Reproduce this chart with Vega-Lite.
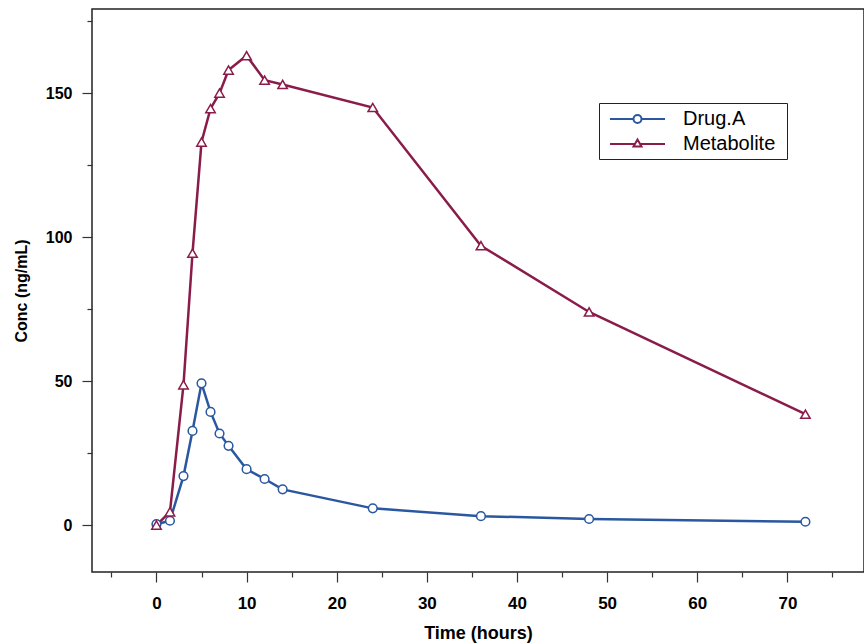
{
  "$schema": "https://vega.github.io/schema/vega-lite/v6.json",
  "width": 772,
  "height": 563,
  "autosize": {"type": "none"},
  "padding": {"left": 92, "top": 9, "right": 0, "bottom": 72},
  "background": "white",
  "config": {
    "view": {"stroke": "#222222", "strokeWidth": 1.5},
    "axis": {"domain": false, "grid": false, "labelColor": "black", "titleColor": "black", "tickColor": "#333333", "tickWidth": 1.2}
  },
  "data": {
    "values": [
      {"time": 0, "conc": 0.3, "compound": "Drug.A"},
      {"time": 1.5, "conc": 1.5, "compound": "Drug.A"},
      {"time": 3, "conc": 17, "compound": "Drug.A"},
      {"time": 4, "conc": 32.7, "compound": "Drug.A"},
      {"time": 5, "conc": 49.2, "compound": "Drug.A"},
      {"time": 6, "conc": 39.3, "compound": "Drug.A"},
      {"time": 7, "conc": 31.8, "compound": "Drug.A"},
      {"time": 8, "conc": 27.5, "compound": "Drug.A"},
      {"time": 10, "conc": 19.4, "compound": "Drug.A"},
      {"time": 12, "conc": 16, "compound": "Drug.A"},
      {"time": 14, "conc": 12.4, "compound": "Drug.A"},
      {"time": 24, "conc": 5.8, "compound": "Drug.A"},
      {"time": 36, "conc": 3.1, "compound": "Drug.A"},
      {"time": 48, "conc": 2.1, "compound": "Drug.A"},
      {"time": 72, "conc": 1.15, "compound": "Drug.A"},
      {"time": 0, "conc": 0, "compound": "Metabolite"},
      {"time": 1.5, "conc": 4.6, "compound": "Metabolite"},
      {"time": 3, "conc": 48.7, "compound": "Metabolite"},
      {"time": 4, "conc": 94.4, "compound": "Metabolite"},
      {"time": 5, "conc": 133, "compound": "Metabolite"},
      {"time": 6, "conc": 144.6, "compound": "Metabolite"},
      {"time": 7, "conc": 150, "compound": "Metabolite"},
      {"time": 8, "conc": 158, "compound": "Metabolite"},
      {"time": 10, "conc": 163, "compound": "Metabolite"},
      {"time": 12, "conc": 154.5, "compound": "Metabolite"},
      {"time": 14, "conc": 153, "compound": "Metabolite"},
      {"time": 24, "conc": 145, "compound": "Metabolite"},
      {"time": 36, "conc": 97, "compound": "Metabolite"},
      {"time": 48, "conc": 74, "compound": "Metabolite"},
      {"time": 72, "conc": 38.5, "compound": "Metabolite"}
    ]
  },
  "encoding": {
    "x": {
      "field": "time", "type": "quantitative",
      "scale": {"domain": [-7.15, 78.5], "nice": false, "zero": false},
      "axis": {
        "title": "Time (hours)",
        "values": [-5, 0, 5, 10, 15, 20, 25, 30, 35, 40, 45, 50, 55, 60, 65, 70, 75],
        "labelExpr": "datum.value % 10 === 0 ? datum.label : ''",
        "tickSize": {"condition": {"test": "datum.value % 10 === 0", "value": 10}, "value": 5},
        "labelPadding": 13,
        "labelFont": "Liberation Sans",
        "labelFontWeight": "bold",
        "labelFontSize": 17,
        "labelFlush": false,
        "labelOverlap": false,
        "titleFont": "Liberation Sans",
        "titleFontWeight": "bold",
        "titleFontSize": 18,
        "titlePadding": 13
      }
    },
    "y": {
      "field": "conc", "type": "quantitative",
      "scale": {"domain": [-16.3, 179.2], "nice": false, "zero": false},
      "axis": {
        "title": "Conc (ng/mL)",
        "values": [0, 25, 50, 75, 100, 125, 150, 175],
        "labelExpr": "datum.value % 50 === 0 ? datum.label : ''",
        "tickSize": {"condition": {"test": "datum.value % 50 === 0", "value": 10}, "value": 5},
        "labelPadding": 10,
        "labelFont": "Liberation Sans",
        "labelFontWeight": "bold",
        "labelFontSize": 16,
        "labelFlush": false,
        "labelOverlap": false,
        "titleFont": "Liberation Sans",
        "titleFontWeight": "bold",
        "titleFontSize": 16,
        "titlePadding": 16
      }
    },
    "color": {
      "field": "compound", "type": "nominal",
      "scale": {"domain": ["Drug.A", "Metabolite"], "range": ["#2a579f", "#8a1c4a"]},
      "legend": {
        "title": null,
        "orient": "none",
        "legendX": 507,
        "legendY": 94,
        "strokeColor": "#222222",
        "padding": 5,
        "symbolSize": 400,
        "symbolStrokeWidth": 2,
        "labelFont": "Liberation Sans",
        "labelFontSize": 20,
        "labelColor": "black",
        "labelOffset": 57,
        "rowPadding": 4,
        "encode": {
          "symbols": {
            "update": {
              "shape": {"signal": "datum.value === 'Drug.A' ? 'M-0.5,0H1.85M2.65,0H5M2.65,0A0.4,0.4 0 1,1 1.85,0A0.4,0.4 0 1,1 2.65,0ZM16.3,0' : 'M-0.5,0H1.98M2.52,0H5M2.25,-0.45L2.65,0.25L1.85,0.25ZM16.3,0'"},
              "fill": {"value": "white"},
              "strokeWidth": {"value": 2}
            }
          }
        }
      }
    }
  },
  "layer": [
    {"mark": {"type": "line", "strokeWidth": 2.5}},
    {
      "transform": [{"filter": "datum.compound === 'Drug.A'"}],
      "mark": {"type": "point", "shape": "circle", "filled": false, "fill": "white", "fillOpacity": 1, "strokeWidth": 1.5, "size": 75, "opacity": 1}
    },
    {
      "transform": [{"filter": "datum.compound === 'Metabolite'"}],
      "mark": {"type": "point", "shape": "triangle-up", "filled": false, "fill": "white", "fillOpacity": 1, "strokeWidth": 1.5, "size": 90, "opacity": 1}
    }
  ]
}
